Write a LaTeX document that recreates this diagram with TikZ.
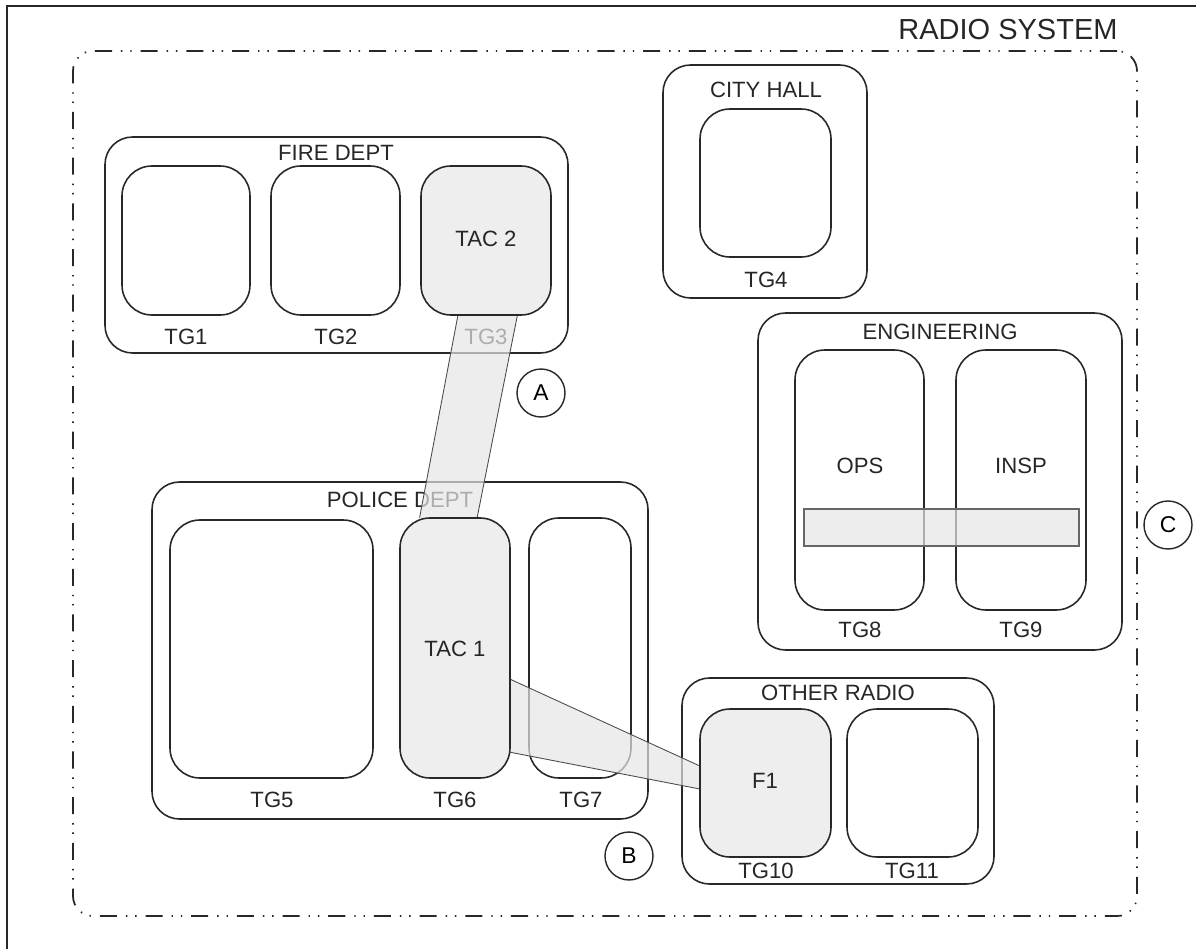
\documentclass[tikz,border=0pt]{standalone}
\usepackage{fontspec}
\setmainfont{Liberation Sans}
\usetikzlibrary{fit,calc}
\definecolor{tgfill}{RGB}{238,238,238}
\definecolor{linkfill}{RGB}{230,230,230}
\definecolor{linecolor}{RGB}{40,40,40}

\begin{document}
\begin{tikzpicture}[
  x=0.02cm, y=-0.02cm,
  sysbox/.style={draw=linecolor, line width=1pt, rounded corners=0.4cm, inner sep=0pt,
    dash pattern=on 9.7pt off 5.1pt on 0.8pt off 4.5pt on 0.8pt off 5.1pt},
  group/.style={draw=linecolor, line width=0.9pt, rounded corners=0.55cm, inner sep=0pt},
  talkgroup/.style={draw=linecolor, line width=0.9pt, rounded corners=0.6cm, inner sep=0pt},
  patched/.style={talkgroup, fill=tgfill},
  lbl/.style={font=\fontsize{12.6}{14}\selectfont, text=black!85, inner sep=0pt},
  marker/.style={circle, draw=linecolor, line width=0.8pt, minimum size=0.96cm,
    inner sep=0pt, font=\fontsize{13}{15}\selectfont},
  link/.style={fill=linkfill, fill opacity=0.7},
  linkedge/.style={draw=black!70, line width=0.5pt}
]
\useasboundingbox (0,0) rectangle (1196,949);

% Frame
\draw[linecolor, line width=1.2pt] (7,6) rectangle (1240,990);

% Radio system
\node[sysbox, fit={(73,51) (1137,916)}] (radiosys) {};
\node[lbl, font=\fontsize{16.5}{18}\selectfont] (radiolbl) at (1008,30) {RADIO SYSTEM};

% Fire dept
\node[group, fit={(105,137) (568,353)}] (fire) {};
\node[talkgroup, fit={(122,166) (250,315)}] (tg1) {};
\node[talkgroup, fit={(271,166) (400,315)}] (tg2) {};
\node[lbl] (firelbl) at (336,153) {FIRE DEPT};
\node[lbl] (tg1lbl) at (186,337) {TG1};
\node[lbl] (tg2lbl) at (336,337) {TG2};
\node[lbl] (tg3lbl) at (486,337) {TG3};

% City hall
\node[group, fit={(663,65) (867,298)}] (city) {};
\node[talkgroup, fit={(700,109) (831,257)}] (tg4) {};
\node[lbl] (citylbl) at (766,90) {CITY HALL};
\node[lbl] (tg4lbl) at (766,280) {TG4};

% Engineering
\node[group, fit={(758,313) (1122,650)}] (eng) {};
\node[talkgroup, fit={(795,350) (924,610)}] (tg8) {};
\node[talkgroup, fit={(956,350) (1086,610)}] (tg9) {};
\node[lbl] (englbl) at (940,332) {ENGINEERING};
\node[lbl] (opslbl) at (860,466) {OPS};
\node[lbl] (insplbl) at (1021,466) {INSP};
\node[lbl] (tg8lbl) at (860,630) {TG8};
\node[lbl] (tg9lbl) at (1021,630) {TG9};
\node[link, draw=black!60, line width=0.6pt, inner sep=0pt,
  fit={(804,509) (1079,546)}] (opsinsp) {};

% Police dept
\node[group, fit={(152,482) (648,819)}] (police) {};
\node[talkgroup, fit={(170,520) (373,778)}] (tg5) {};
\node[talkgroup, fit={(529,518) (631,778)}] (tg7) {};
\node[lbl] (policelbl) at (400,500) {POLICE DEPT};
\node[lbl] (tg5lbl) at (272,800) {TG5};
\node[lbl] (tg6lbl) at (455,800) {TG6};
\node[lbl] (tg7lbl) at (581,800) {TG7};

% Other radio
\node[group, fit={(682,678) (994,884)}] (other) {};
\node[talkgroup, fit={(847,709) (978,857)}] (tg11) {};
\node[lbl] (otherlbl) at (838,693) {OTHER RADIO};
\node[lbl] (tg10lbl) at (766,871) {TG10};
\node[lbl] (tg11lbl) at (912,871) {TG11};

% Patched talkgroups (placed, drawn later)
\path (421,166) coordinate (tg3nw) (551,315) coordinate (tg3se);
\path (400,518) coordinate (tg6nw) (510,778) coordinate (tg6se);
\path (700,709) coordinate (tg10nw) (831,857) coordinate (tg10se);
\node[fit=(tg3nw)(tg3se), inner sep=0pt] (tg3) {};
\node[fit=(tg6nw)(tg6se), inner sep=0pt] (tg6) {};
\node[fit=(tg10nw)(tg10se), inner sep=0pt] (tg10) {};

% Patch TAC 2 -- TAC 1
\coordinate (p3l) at ($(tg3.south west)!0.285!(tg3.south east)$);
\coordinate (p3r) at ($(tg3.south west)!0.74!(tg3.south east)$);
\coordinate (p6l) at ($(tg6.north west)!0.18!(tg6.north east)$);
\coordinate (p6r) at ($(tg6.north west)!0.70!(tg6.north east)$);
\fill[link] (p3l) -- (p3r) -- (p6r) -- (p6l) -- cycle;
\draw[linkedge] (p3l) -- (p6l);
\draw[linkedge] (p3r) -- (p6r);

% Patch TAC 1 -- F1
\coordinate (q6t) at ($(tg6.north east)!0.62!(tg6.south east)$);
\coordinate (q6b) at ($(tg6.north east)!0.90!(tg6.south east)$);
\coordinate (q10t) at ($(tg10.north west)!0.385!(tg10.south west)$);
\coordinate (q10b) at ($(tg10.north west)!0.54!(tg10.south west)$);
\fill[link] (q6t) -- (q10t) -- (q10b) -- (q6b) -- cycle;
\draw[linkedge] (q6t) -- (q10t);
\draw[linkedge] (q6b) -- (q10b);

% Patched boxes on top
\node[patched, fit=(tg3nw)(tg3se)] (tac2) {};
\node[patched, fit=(tg6nw)(tg6se)] (tac1) {};
\node[patched, fit=(tg10nw)(tg10se)] (f1) {};
\node[lbl] (tac2lbl) at (486,239) {TAC 2};
\node[lbl] (tac1lbl) at (455,649) {TAC 1};
\node[lbl] (f1lbl) at (765,781) {F1};

% Markers
\node[marker] (markA) at (541,393) {A};
\node[marker] (markB) at (629,856) {B};
\node[marker] (markC) at (1168,525) {C};

\end{tikzpicture}
\end{document}
